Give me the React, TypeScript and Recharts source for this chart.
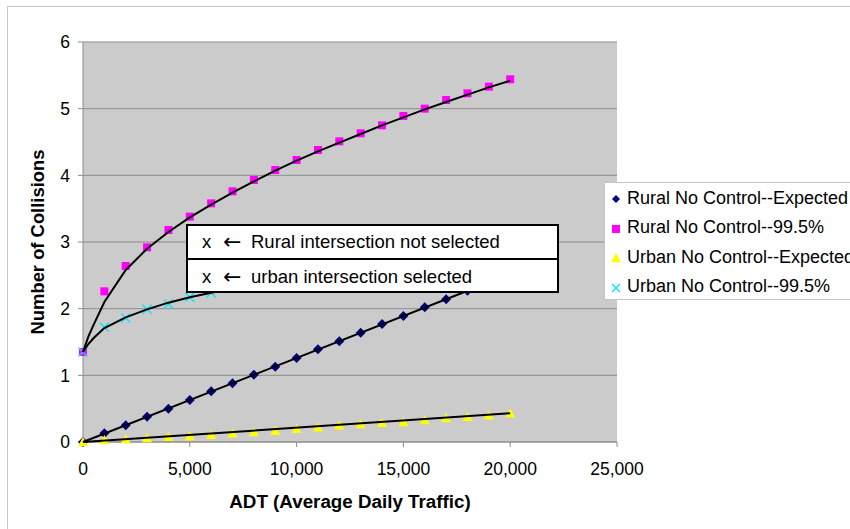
import { CartesianGrid, Scatter, ScatterChart, XAxis, YAxis } from "recharts";

const FONT = '"Liberation Sans", Arial, sans-serif';

// ADT values (x) for the plotted markers
const adt = [
  0, 1000, 2000, 3000, 4000, 5000, 6000, 7000, 8000, 9000, 10000, 11000, 12000, 13000, 14000,
  15000, 16000, 17000, 18000, 19000, 20000,
];
const ruralExpected = [
  0, 0.13, 0.25, 0.38, 0.5, 0.63, 0.76, 0.88, 1.01, 1.13, 1.26, 1.39, 1.51, 1.64, 1.77, 1.89,
  2.02, 2.14, 2.27, 2.4, 2.52,
];
const rural995 = [
  1.35, 2.26, 2.64, 2.92, 3.18, 3.38, 3.58, 3.76, 3.93, 4.08, 4.23, 4.38, 4.51, 4.63, 4.75, 4.89,
  5.0, 5.13, 5.23, 5.33, 5.44,
];
const urbanExpected = [
  0, 0.03, 0.04, 0.06, 0.08, 0.09, 0.11, 0.13, 0.15, 0.17, 0.2, 0.22, 0.25, 0.27, 0.29, 0.3, 0.33,
  0.36, 0.38, 0.4, 0.43,
];
const urban995 = [
  1.35, 1.72, 1.86, 1.99, 2.07, 2.17, 2.24, 2.3, 2.36, 2.41, 2.46, 2.5, 2.54, 2.58, 2.62, 2.65,
  2.69, 2.72, 2.75, 2.78, 2.8,
];

// black fitted curves
const curveAdt = [
  0, 250, 500, 1000, 2000, 3000, 4000, 5000, 6000, 7000, 8000, 9000, 10000, 11000, 12000, 13000,
  14000, 15000, 16000, 17000, 18000, 19000, 20000,
];
const rural995Curve = [
  1.35, 1.58, 1.76, 2.1, 2.58, 2.9, 3.15, 3.37, 3.56, 3.74, 3.91, 4.07, 4.22, 4.36, 4.49, 4.62,
  4.75, 4.87, 4.99, 5.1, 5.21, 5.32, 5.42,
];
const urban995Curve = [
  1.35, 1.47, 1.56, 1.71, 1.87, 1.99, 2.09, 2.17, 2.24, 2.3, 2.36, 2.41, 2.46, 2.5, 2.54, 2.58,
  2.62, 2.65, 2.69, 2.72, 2.75, 2.78, 2.8,
];
const lineAdt = [0, 20000];
const ruralExpectedLine = [0, 2.52];
const urbanExpectedLine = [0, 0.43];

const xTicks = [0, 5000, 10000, 15000, 20000, 25000];
const yTicks = [0, 1, 2, 3, 4, 5, 6];

const seriesNames = [
  "Rural No Control--Expected",
  "Rural No Control--99.5%",
  "Urban No Control--Expected",
  "Urban No Control--99.5%",
];
const notes = ["Rural intersection not selected", "urban intersection selected"];

const toPoints = (xs: number[], ys: number[]) => xs.map((x, i) => ({ x, y: ys[i] }));

function Diamond({ cx, cy, r = 5 }: any) {
  return (
    <polygon
      points={`${cx},${cy - r} ${cx + r},${cy} ${cx},${cy + r} ${cx - r},${cy}`}
      fill="#000080"
    />
  );
}
function Square({ cx, cy, r = 4 }: any) {
  return <rect x={cx - r} y={cy - r} width={r * 2} height={r * 2} fill="#ff00ff" />;
}
function Triangle({ cx, cy, r = 5 }: any) {
  return (
    <polygon
      points={`${cx},${cy - r} ${cx + r},${cy + r * 0.85} ${cx - r},${cy + r * 0.85}`}
      fill="#ffff00"
    />
  );
}
function Cross({ cx, cy, r = 4.5 }: any) {
  return (
    <g stroke="#00e5ff" strokeWidth={1.3}>
      <line x1={cx - r} y1={cy - r} x2={cx + r} y2={cy + r} />
      <line x1={cx - r} y1={cy + r} x2={cx + r} y2={cy - r} />
    </g>
  );
}
const NoDot = () => <g />;

const markers = [Diamond, Square, Triangle, Cross];

function YTitle({ viewBox }: any) {
  const x = viewBox.x + 37;
  const y = viewBox.y + viewBox.height / 2;
  return (
    <text
      x={x}
      y={y}
      transform={`rotate(-90 ${x} ${y})`}
      textAnchor="middle"
      dominantBaseline="central"
      fontSize={18.4}
      fontWeight="bold"
      fontFamily={FONT}
      fill="#000"
    >
      Number of Collisions
    </text>
  );
}

function XTitle({ viewBox }: any) {
  return (
    <text
      x={viewBox.x + viewBox.width / 2}
      y={501}
      textAnchor="middle"
      dominantBaseline="central"
      fontSize={18.8}
      fontWeight="bold"
      fontFamily={FONT}
      fill="#000"
    >
      ADT (Average Daily Traffic)
    </text>
  );
}

export default function App() {
  const tick = { fill: "#000", fontSize: 17.5, fontFamily: FONT };
  const curve = { stroke: "#000", strokeWidth: 2 };
  return (
    <div
      style={{
        position: "fixed",
        left: 0,
        top: 0,
        width: 850,
        height: 529,
        overflow: "hidden",
        background: "#fff",
        fontFamily: FONT,
      }}
    >
      <div
        style={{
          position: "absolute",
          left: 7,
          top: 6,
          width: 900,
          height: 600,
          border: "1px solid #c4c4c4",
        }}
      />
      <ScatterChart
        width={850}
        height={529}
        margin={{ top: 42, right: 233, bottom: 0, left: 0 }}
        style={{ position: "absolute", left: 0, top: 0 }}
      >
        <CartesianGrid fill="#cbcbcb" stroke="#8c8c8c" vertical={false} />
        <XAxis
          type="number"
          dataKey="x"
          domain={[0, 25000]}
          ticks={xTicks}
          tick={tick}
          tickSize={5}
          tickMargin={16}
          height={87}
          stroke="#8c8c8c"
          tickFormatter={(v: number) => v.toLocaleString("en-US")}
          label={<XTitle />}
        />
        <YAxis
          type="number"
          dataKey="y"
          domain={[0, 6]}
          ticks={yTicks}
          tick={tick}
          tickSize={5}
          tickMargin={8}
          width={83}
          stroke="#8c8c8c"
          label={<YTitle />}
        />
        <Scatter data={toPoints(adt, ruralExpected)} shape={<Diamond />} isAnimationActive={false} />
        <Scatter data={toPoints(adt, rural995)} shape={<Square />} isAnimationActive={false} />
        <Scatter data={toPoints(adt, urbanExpected)} shape={<Triangle />} isAnimationActive={false} />
        <Scatter data={toPoints(adt, urban995)} shape={<Cross />} isAnimationActive={false} />
        <Scatter
          data={toPoints(lineAdt, ruralExpectedLine)}
          line={curve}
          lineType="joint"
          shape={<NoDot />}
          isAnimationActive={false}
        />
        <Scatter
          data={toPoints(curveAdt, rural995Curve)}
          line={curve}
          lineType="joint"
          shape={<NoDot />}
          isAnimationActive={false}
        />
        <Scatter
          data={toPoints(lineAdt, urbanExpectedLine)}
          line={curve}
          lineType="joint"
          shape={<NoDot />}
          isAnimationActive={false}
        />
        <Scatter
          data={toPoints(curveAdt, urban995Curve)}
          line={curve}
          lineType="joint"
          shape={<NoDot />}
          isAnimationActive={false}
        />
      </ScatterChart>

      {/* legend */}
      <div
        style={{
          position: "absolute",
          left: 604,
          top: 182,
          width: 260,
          height: 116,
          border: "1px solid #c4c4c4",
          background: "#fff",
        }}
      >
        {seriesNames.map((name, i) => {
          const M = markers[i];
          return (
            <div
              key={name}
              style={{
                position: "absolute",
                left: 0,
                top: 2 + i * 29.5,
                height: 26,
                display: "flex",
                alignItems: "center",
                whiteSpace: "nowrap",
                fontSize: 18,
                color: "#000",
              }}
            >
              <svg width={22} height={26}>
                <M cx={11} cy={14} r={i === 2 ? 5 : 4} />
              </svg>
              <span>{name}</span>
            </div>
          );
        })}
      </div>

      {/* annotation boxes */}
      <div
        style={{
          position: "absolute",
          left: 186,
          top: 224,
          width: 369,
          height: 65,
          border: "2px solid #000",
          background: "#fff",
        }}
      >
        {notes.map((note, i) => (
          <div
            key={note}
            style={{
              height: i === 0 ? 32 : 33,
              borderTop: i === 0 ? "none" : "2px solid #000",
              display: "flex",
              alignItems: "center",
              whiteSpace: "nowrap",
              fontSize: 18.5,
              color: "#000",
            }}
          >
            <span style={{ display: "inline-block", width: 35, paddingLeft: 14 }}>x</span>
            <span
              style={{
                display: "inline-block",
                width: 28,
                marginLeft: -14,
                fontFamily: '"DejaVu Sans", sans-serif',
                fontSize: 22,
                lineHeight: "22px",
              }}
            >
              ←
            </span>
            <span>{note}</span>
          </div>
        ))}
      </div>
    </div>
  );
}
